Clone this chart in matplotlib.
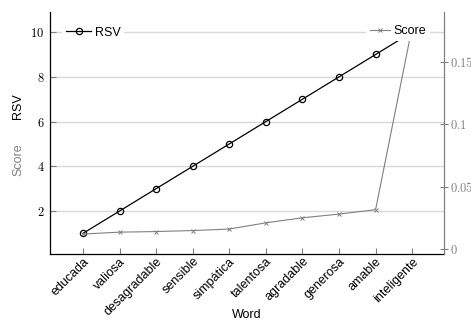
import matplotlib
matplotlib.use("Agg")
import matplotlib.pyplot as plt
import matplotlib.transforms as mtransforms
from matplotlib.lines import Line2D

plt.rcParams['mathtext.fontset'] = 'cm'
plt.rcParams['font.family'] = ['Liberation Sans', 'DejaVu Sans']

words = ["educada", "valiosa", "desagradable", "sensible", "simpática",
         "talentosa", "agradable", "generosa", "amable", "inteligente"]
rsv = [1, 2, 3, 4, 5, 6, 7, 8, 9, 10]
score = [0.012, 0.0135, 0.014, 0.0148, 0.016, 0.021, 0.025, 0.028, 0.0315, 0.178]
rsv_ticks = [2, 4, 6, 8, 10]
score_ticks = [0, 0.05, 0.1, 0.15]
score_ticklabels = ["0", "0.05", "0.1", "0.15"]

gray = "#808080"
fig = plt.figure(figsize=(4.71, 3.23), dpi=100)
ax = fig.add_axes([50/471, 1-254/323, (444-50)/471, (254-12)/323])
x = list(range(len(words)))

ax.set_xlim(-0.9, 9.87)
ax.set_ylim(0.08, 10.9)
for t in rsv_ticks:
    ax.axhline(t, color="#d9d9d9", lw=1.0, zorder=0)
ax.plot(x, rsv, color="black", lw=0.9, marker="o", ms=4.5, mfc="none",
        mec="black", mew=0.9, zorder=3)

ax.set_yticks(rsv_ticks)
ax.set_yticklabels([f"${t}$" for t in rsv_ticks], fontsize=9)
ax.set_xticks(x)
ax.set_xticklabels(words, rotation=45, ha="right", va="top",
                   rotation_mode="anchor", fontsize=9)
offset = mtransforms.ScaledTranslation(-3/100, 0, fig.dpi_scale_trans)
for lab in ax.get_xticklabels():
    lab.set_transform(lab.get_transform() + offset)
ax.tick_params(axis="x", direction="in", length=4, color=gray, pad=1)
ax.tick_params(axis="y", direction="in", length=4, color=gray, pad=4)
ax.spines["top"].set_visible(False)
ax.spines["right"].set_visible(False)
ax.spines["left"].set_linewidth(0.9)
ax.spines["bottom"].set_linewidth(0.9)
ax.set_xlabel("Word", fontsize=9)
ax.xaxis.set_label_coords(0.5, -(309 - 254) / 242, transform=ax.transAxes)

ax2 = ax.twinx()
ax2.set_ylim(-0.004, 0.19)
ax2.plot(x, score, color=gray, lw=0.8, marker="x", ms=3, mew=0.7, zorder=3)
ax2.set_yticks(score_ticks)
ax2.set_yticklabels([f"${s}$" for s in score_ticklabels], fontsize=9, color=gray)
ax2.tick_params(axis="y", direction="inout", length=6, color=gray, pad=1.5)
for s in ["top", "left", "bottom"]:
    ax2.spines[s].set_visible(False)
ax2.spines["right"].set_color(gray)
ax2.spines["right"].set_linewidth(0.9)

fig.text(18/471, 1-106/323, "RSV", rotation=90, fontsize=9, ha="center", va="center")
fig.text(18/471, 1-160/323, "Score", rotation=90, fontsize=9, color=gray,
         ha="center", va="center")

h1 = Line2D([], [], color="black", lw=0.9, marker="o", ms=4.5, mfc="none", mew=0.9)
h2 = Line2D([], [], color=gray, lw=0.8, marker="x", ms=3, mew=0.7)
leg1 = ax2.legend([h1], ["RSV"], loc="center left",
                  bbox_to_anchor=(6/394, 1-20.5/242),
                  frameon=True, framealpha=1, edgecolor="none", fontsize=9,
                  handlelength=2, handletextpad=0.3, borderpad=0.3, fancybox=False)
ax2.add_artist(leg1)
ax2.legend([h2], ["Score"], loc="center right",
           bbox_to_anchor=(1-8/394, 1-19.5/242),
           frameon=True, framealpha=1, edgecolor="none", fontsize=9,
           handlelength=1.6, handletextpad=0.3, borderpad=0.3, fancybox=False)

fig.savefig("out.png", dpi=100)
